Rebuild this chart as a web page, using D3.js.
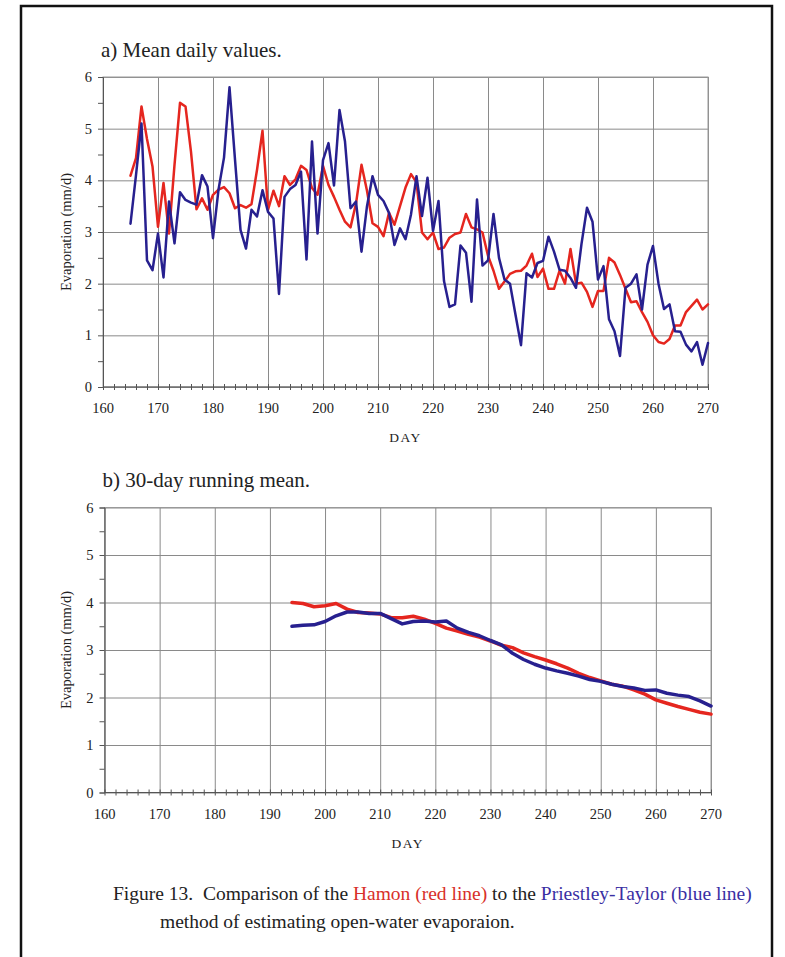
<!DOCTYPE html>
<html>
<head>
<meta charset="utf-8">
<script src="https://cdn.jsdelivr.net/npm/d3@7"></script>
<style>
  body { margin: 0; background: #fff; }
  svg { display: block; }
  text { font-family: "Liberation Serif", "Times New Roman", serif; fill: #222; }
</style>
</head>
<body>
<svg id="fig" width="785" height="957"></svg>
<script>
// data (mm/d)
var dailyStart = 165  // first day of panel a
var hamonDaily = [
  4.09, 4.43, 5.43, 4.80, 4.27, 3.10, 3.95, 2.97, 4.30, 5.50,
  5.43, 4.55, 3.44, 3.65, 3.43, 3.72, 3.82, 3.87, 3.75, 3.46,
  3.52, 3.47, 3.54, 4.20, 4.96, 3.43, 3.80, 3.50, 4.08, 3.91,
  4.02, 4.28, 4.20, 3.85, 3.72, 4.28, 3.91, 3.68, 3.43, 3.20,
  3.09, 3.55, 4.30, 3.80, 3.17, 3.10, 2.92, 3.37, 3.14, 3.50,
  3.86, 4.12, 3.96, 2.99, 2.86, 2.99, 2.67, 2.70, 2.89, 2.96,
  2.99, 3.35, 3.09, 3.05, 2.99, 2.54, 2.25, 1.90, 2.04, 2.19,
  2.24, 2.25, 2.35, 2.58, 2.13, 2.29, 1.90, 1.90, 2.25, 2.00,
  2.67, 2.00, 2.02, 1.84, 1.55, 1.86, 1.86, 2.50, 2.41, 2.17,
  1.90, 1.64, 1.66, 1.45, 1.26, 1.00, 0.87, 0.84, 0.93, 1.19,
  1.19, 1.45, 1.57, 1.69, 1.50, 1.60
]
var ptDaily = [
  3.16, 4.10, 5.10, 2.45, 2.26, 2.97, 2.12, 3.59, 2.78, 3.77,
  3.62, 3.57, 3.53, 4.10, 3.88, 2.88, 3.82, 4.44, 5.80, 4.40,
  3.04, 2.68, 3.43, 3.30, 3.81, 3.39, 3.26, 1.80, 3.68, 3.83,
  3.91, 4.17, 2.47, 4.75, 2.97, 4.39, 4.72, 3.90, 5.36, 4.75,
  3.46, 3.59, 2.62, 3.50, 4.08, 3.72, 3.60, 3.37, 2.75, 3.07,
  2.86, 3.34, 4.08, 3.31, 4.05, 3.02, 3.60, 2.05, 1.55, 1.60,
  2.74, 2.60, 1.65, 3.63, 2.35, 2.45, 3.35, 2.50, 2.08, 2.00,
  1.40, 0.81, 2.20, 2.12, 2.40, 2.44, 2.91, 2.62, 2.27, 2.25,
  2.11, 1.92, 2.77, 3.47, 3.20, 2.08, 2.34, 1.31, 1.08, 0.60,
  1.92, 2.00, 2.18, 1.50, 2.37, 2.73, 2.00, 1.51, 1.60, 1.08,
  1.07, 0.82, 0.69, 0.87, 0.43, 0.85
]

// 30-day running mean, every 2nd day from day 194
var meanStart = 194
var meanStep = 2
var hamonMean = [
  4.00, 3.98, 3.91, 3.93, 3.98, 3.86, 3.79, 3.78, 3.76, 3.68,
  3.68, 3.71, 3.65, 3.56, 3.46, 3.40, 3.33, 3.27, 3.19, 3.10,
  3.05, 2.94, 2.86, 2.79, 2.71, 2.62, 2.51, 2.42, 2.35, 2.28,
  2.24, 2.16, 2.07, 1.95, 1.88, 1.81, 1.75, 1.69, 1.65
]
var ptMean = [
  3.50, 3.52, 3.53, 3.60, 3.72, 3.80, 3.80, 3.77, 3.77, 3.66,
  3.55, 3.60, 3.61, 3.59, 3.61, 3.46, 3.37, 3.30, 3.20, 3.11,
  2.93, 2.80, 2.70, 2.62, 2.56, 2.51, 2.45, 2.38, 2.34, 2.28,
  2.23, 2.20, 2.15, 2.16, 2.09, 2.05, 2.02, 1.93, 1.82
]

var xTicks = [160, 170, 180, 190, 200, 210, 220, 230, 240, 250, 260, 270]
var yTicks = [0, 1, 2, 3, 4, 5, 6]

var RED = '#e5261f'
var BLUE = '#27208f'

var svg = d3.select('#fig')

// page frame
svg.append('rect')
    .attr('x', 21).attr('y', 6)
    .attr('width', 751).attr('height', 1000)
    .attr('fill', 'none')
    .attr('stroke', '#111')
    .attr('stroke-width', 2.5)

function toPairs(start, step, values) {
    return values.map(function (v, i) { return [start + i * step, v] })
}

function drawPanel(p) {
    var x = d3.scaleLinear().domain([160, 270]).range([p.left, p.right])
    var y = d3.scaleLinear().domain([0, 6]).range([p.bottom, p.top])
    var g = svg.append('g')

    // grid
    g.append('g')
        .attr('transform', 'translate(0,' + p.bottom + ')')
        .call(d3.axisBottom(x).tickValues(xTicks).tickSize(-(p.bottom - p.top)).tickFormat(''))
        .call(function (s) { s.select('.domain').remove() })
    g.append('g')
        .attr('transform', 'translate(' + p.left + ',0)')
        .call(d3.axisLeft(y).tickValues(yTicks).tickSize(-(p.right - p.left)).tickPadding(11)
            .tickFormat(d3.format('d')))
        .call(function (s) { s.select('.domain').remove() })
    g.selectAll('.tick line').attr('stroke', '#8a8a8a').attr('stroke-width', 1)
    g.selectAll('.tick text')
        .style('font-family', '"Liberation Serif", serif')
        .style('font-size', '14.5px').attr('fill', '#222')

    // frame (top, right)
    g.append('rect')
        .attr('x', p.left).attr('y', p.top)
        .attr('width', p.right - p.left).attr('height', p.bottom - p.top)
        .attr('fill', 'none').attr('stroke', '#999').attr('stroke-width', 1)

    // y axis with half-unit ticks
    g.append('g')
        .attr('transform', 'translate(' + p.left + ',0)')
        .call(d3.axisLeft(y).ticks(12).tickSize(5).tickFormat(''))
        .call(function (s) {
            s.select('.domain').attr('stroke', '#555')
            s.selectAll('.tick line').attr('stroke', '#555')
        })

    // x axis with 2-day ticks crossing the line
    g.append('g')
        .attr('transform', 'translate(0,' + (p.bottom - 3) + ')')
        .call(d3.axisBottom(x).tickValues(d3.range(160, 271, 2)).tickSize(6).tickFormat(''))
        .call(function (s) {
            s.select('.domain').remove()
            s.selectAll('.tick line').attr('stroke', '#555')
        })
    g.append('line')
        .attr('x1', p.left).attr('x2', p.right)
        .attr('y1', p.bottom).attr('y2', p.bottom)
        .attr('stroke', '#555')

    // x tick labels
    g.selectAll('.xlab')
        .data(xTicks)
        .enter()
        .append('text')
        .attr('x', function (d) { return x(d) })
        .attr('y', p.bottom + 26)
        .attr('text-anchor', 'middle')
        .style('font-size', '14.5px')
        .text(function (d) { return d })

    g.append('text')
        .attr('x', (p.left + p.right) / 2)
        .attr('y', p.bottom + 55)
        .attr('text-anchor', 'middle')
        .style('font-size', '13.5px')
        .style('letter-spacing', '1.5px')
        .text('DAY')

    g.append('text')
        .attr('transform', 'translate(71,' + (p.top + p.bottom) / 2 + ') rotate(-90)')
        .attr('text-anchor', 'middle')
        .style('font-size', '14.5px')
        .text('Evaporation (mm/d)')

    g.append('text')
        .attr('x', p.left - 2)
        .attr('y', p.titleY)
        .style('font-size', '21px')
        .text(p.title)

    var line = d3.line()
        .x(function (d) { return x(d[0]) })
        .y(function (d) { return y(d[1]) })

    p.series.forEach(function (s) {
        g.append('path')
            .datum(s.data)
            .attr('d', line)
            .attr('fill', 'none')
            .attr('stroke', s.color)
            .attr('stroke-width', s.width)
            .attr('stroke-linejoin', 'round')
            .attr('stroke-linecap', 'round')
    })
}

drawPanel({
    left: 103, right: 708, top: 77, bottom: 387,
    title: 'a) Mean daily values.', titleY: 57,
    series: [
        { data: toPairs(dailyStart, 1, hamonDaily), color: RED, width: 2.5 },
        { data: toPairs(dailyStart, 1, ptDaily), color: BLUE, width: 2.5 }
    ]
})

drawPanel({
    left: 104.5, right: 711, top: 507.5, bottom: 792.5,
    title: 'b) 30-day running mean.', titleY: 487,
    series: [
        { data: toPairs(meanStart, meanStep, hamonMean), color: RED, width: 3.5 },
        { data: toPairs(meanStart, meanStep, ptMean), color: BLUE, width: 3.5 }
    ]
})

// caption
var cap = svg.append('text')
    .attr('x', 113)
    .attr('y', 900)
    .style('font-size', '19.5px')
cap.append('tspan').text('Figure 13.\u00a0 Comparison of the ')
cap.append('tspan').attr('fill', '#d8302a').text('Hamon (red line)')
cap.append('tspan').text(' to the ')
cap.append('tspan').attr('fill', '#3a2fa3').text('Priestley-Taylor (blue line)')

svg.append('text')
    .attr('x', 160)
    .attr('y', 928)
    .style('font-size', '19.5px')
    .text('method of estimating open-water evaporaion.')
</script>
</body>
</html>
